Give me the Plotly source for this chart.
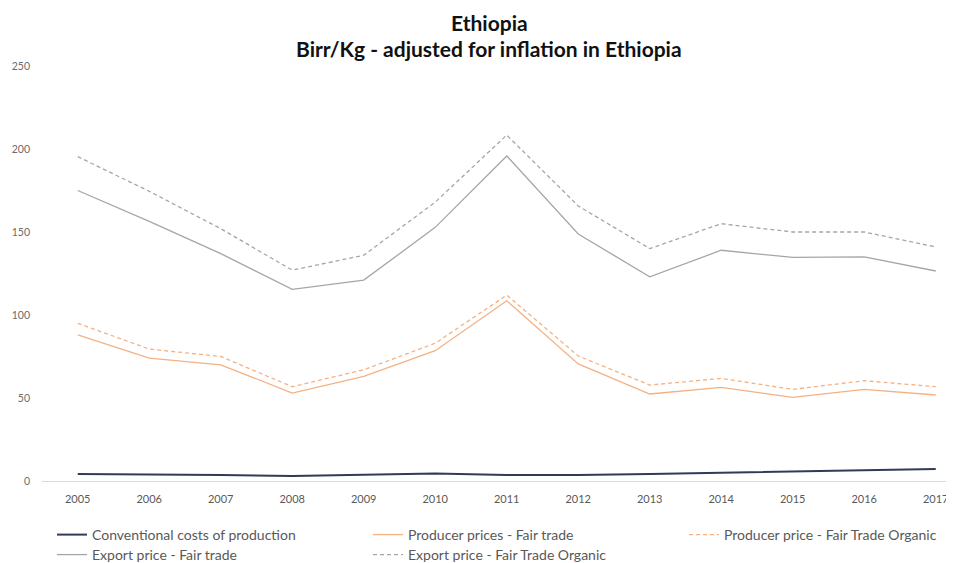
import plotly.graph_objects as go

years = list(range(2005, 2018))
conventional = [4.2, 4.0, 3.6, 3.0, 3.8, 4.5, 3.6, 3.6, 4.2, 5.0, 5.8, 6.2, 7.2]
producer_ft = [88, 74, 70, 53, 63, 78.5, 108.6, 70.5, 52.4, 56.4, 50.4, 55.2, 51.8]
producer_org = [95, 79.5, 75, 56.8, 67, 83, 112, 75.3, 57.8, 61.8, 55.2, 60.4, 56.8]
export_ft = [175, 156.4, 137, 115.5, 121, 152.8, 195.8, 148.8, 123, 139, 134.7, 135, 126.5]
export_org = [195.4, 174.5, 152, 127, 136, 168, 208.4, 165.7, 140, 155, 150, 150, 141]
y_ticks = [0, 50, 100, 150, 200, 250]

names = ["Conventional costs of production", "Producer prices - Fair trade",
         "Producer price - Fair Trade Organic", "Export price - Fair trade",
         "Export price - Fair Trade Organic"]

FONT = "Lato, Calibri, sans-serif"
# figure coordinates (page body has an 8px offset)
PLOT_TOP, PLOT_BOTTOM, PLOT_LEFT, PLOT_W = 58, 473, 34, 920
W, H = 954, 563

fig = go.Figure()
fig.add_trace(go.Scatter(x=years, y=conventional, name=names[0], mode="lines",
                         line=dict(color="#2f3b57", width=2), legend="legend"))
fig.add_trace(go.Scatter(x=years, y=producer_ft, name=names[1], mode="lines",
                         line=dict(color="#f4b183", width=1.3), legend="legend2"))
fig.add_trace(go.Scatter(x=years, y=producer_org, name=names[2], mode="lines",
                         line=dict(color="#f4b183", width=1.3, dash="4px,3px"), legend="legend3"))
fig.add_trace(go.Scatter(x=years, y=export_ft, name=names[3], mode="lines",
                         line=dict(color="#a6a6a6", width=1.3), legend="legend4"))
fig.add_trace(go.Scatter(x=years, y=export_org, name=names[4], mode="lines",
                         line=dict(color="#a6a6a6", width=1.3, dash="4px,3px"), legend="legend5"))

leg_common = dict(orientation="v", xanchor="left", yanchor="top", yref="container",
                  xref="container", font=dict(family=FONT, size=14, color="#595959"),
                  bgcolor="rgba(0,0,0,0)", tracegroupgap=0, itemwidth=30, borderwidth=0)

col_x = [44, 360, 676]
row_top = [511, 531]

fig.update_layout(
    width=W, height=H,
    paper_bgcolor="white", plot_bgcolor="white",
    margin=dict(l=PLOT_LEFT, r=W - PLOT_LEFT - PLOT_W, t=PLOT_TOP, b=H - PLOT_BOTTOM,
                autoexpand=False),
    xaxis=dict(range=[2004.5, 2004.5 + PLOT_W / 71.5], tickmode="array", tickvals=years,
               ticktext=[str(y) for y in years], showgrid=False, zeroline=False,
               showline=False, ticks="", tickangle=0, ticklabelstandoff=10,
               tickfont=dict(family=FONT, size=11, color="#595959")),
    yaxis=dict(range=[0, 250], tickmode="array", tickvals=y_ticks, showgrid=False,
               zeroline=True, zerolinecolor="#d9d9d9", zerolinewidth=1, showline=False,
               ticklabelstandoff=11,
               tickfont=dict(family=FONT, size=10.5, color="#6b6b6b")),
    legend=dict(x=col_x[0] / W, y=1 - row_top[0] / H, **leg_common),
    legend2=dict(x=col_x[1] / W, y=1 - row_top[0] / H, **leg_common),
    legend3=dict(x=col_x[2] / W, y=1 - row_top[0] / H, **leg_common),
    legend4=dict(x=col_x[0] / W, y=1 - row_top[1] / H, **leg_common),
    legend5=dict(x=col_x[1] / W, y=1 - row_top[1] / H, **leg_common),
    showlegend=True,
)

def py(pix):
    return (PLOT_BOTTOM - pix) / (PLOT_BOTTOM - PLOT_TOP)

def px(pix):
    return (pix - PLOT_LEFT) / PLOT_W

fig.add_annotation(text="<b>Ethiopia</b>", xref="paper", yref="paper",
                   x=px(481), y=py(15), xanchor="center", yanchor="middle",
                   showarrow=False, font=dict(family=FONT, size=21, color="#111111"))
fig.add_annotation(text="<b>Birr/Kg - adjusted for inflation in Ethiopia</b>", xref="paper",
                   yref="paper", x=px(481), y=py(40), xanchor="center",
                   yanchor="middle", showarrow=False,
                   font=dict(family=FONT, size=21, color="#111111"))

fig.write_html("out.html")
